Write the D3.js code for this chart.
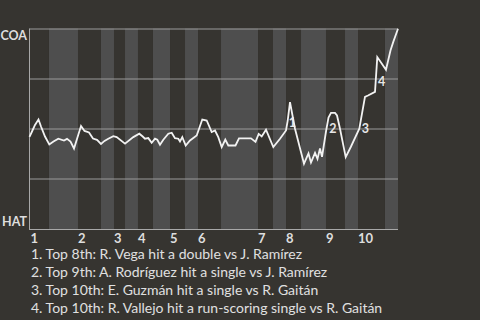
<!DOCTYPE html>
<html>
<head>
<meta charset="utf-8">
<script src="https://cdn.jsdelivr.net/npm/d3@7"></script>
<style>
  body { margin: 0; background: #363430; }
  svg { display: block; font-family: Lato, "Open Sans", sans-serif; }
</style>
</head>
<body>
<svg id="chart" width="480" height="320"></svg>
<script>
// game progress (0-100) and COA win probability
var progress = [0, 0.68, 1.49, 2.44, 3.12, 4.21, 5.37, 6.51, 7.82, 9.36, 10.18, 11.13, 12.08, 13.98,
    14.93, 16.15, 17.23, 18.32, 19.40, 20.35, 21.38, 22.74, 23.66, 25.92, 28.17, 29.80, 30.72, 31.34,
    32.24, 33.16, 34.06, 34.68, 35.41, 36.31, 37.67, 38.59, 39.48, 40.38, 40.84, 41.47, 42.39, 43.56,
    45.37, 46.89, 48.09, 49.44, 50.34, 51.23, 52.16, 53.13, 53.95, 55.90, 56.85, 60.11, 61.33, 62.20,
    63.01, 64.18, 66.16, 67.98, 69.61, 70.07, 70.69, 71.37, 72.05, 74.49, 75.71, 76.39, 77.48, 78.15,
    78.83, 79.38, 80.46, 81.14, 81.82, 82.90, 83.45, 84.26, 85.81, 87.25, 89.50, 91.04, 91.86, 93.76,
    94.38, 96.74, 97.96, 98.72, 100];
var winProb = [0.458, 0.485, 0.518, 0.545, 0.51, 0.46, 0.42, 0.435, 0.449, 0.44, 0.448, 0.435, 0.40, 0.513,
    0.488, 0.48, 0.45, 0.443, 0.423, 0.438, 0.449, 0.462, 0.457, 0.424, 0.457, 0.474, 0.46, 0.449,
    0.452, 0.429, 0.449, 0.444, 0.419, 0.444, 0.474, 0.479, 0.452, 0.449, 0.435, 0.457, 0.415, 0.44,
    0.465, 0.545, 0.54, 0.482, 0.49, 0.457, 0.407, 0.445, 0.415, 0.415, 0.451, 0.451, 0.433, 0.473,
    0.46, 0.494, 0.407, 0.449, 0.49, 0.54, 0.632, 0.565, 0.499, 0.324, 0.375, 0.33, 0.378, 0.348,
    0.40, 0.358, 0.485, 0.555, 0.578, 0.578, 0.565, 0.499, 0.357, 0.41, 0.499, 0.658, 0.665, 0.683,
    0.857, 0.794, 0.89, 0.933, 0.999];

// where each half inning starts (progress), top and bottom halves in turn
var halfStarts = [0, 5.29, 13.16, 19.40, 22.93, 25.92, 29.44, 33.51, 38.13, 42.20, 45.73, 51.97,
    62.01, 66.08, 69.61, 73.68, 80.46, 85.62, 89.15, 96.47];
var innings = ["1", "2", "3", "4", "5", "6", "7", "8", "9", "10"];

var teams = ["COA", "HAT"];

// key plays: marker number, where it sits on the chart
var noteNums = ["1", "2", "3", "4"];
var noteAt = [71.37, 82.36, 91.18, 95.58];
var noteWp = [0.5075, 0.48, 0.48, 0.7125];
var notes = [
    "1. Top 8th: R. Vega hit a double vs J. Ramírez",
    "2. Top 9th: A. Rodríguez hit a single vs J. Ramírez",
    "3. Top 10th: E. Guzmán hit a single vs R. Gaitán",
    "4. Top 10th: R. Vallejo hit a run-scoring single vs R. Gaitán"
];

var svg = d3.select('#chart');
var plotLeft = 29.5, plotRight = 398, plotTop = 28.5, plotBottom = 228.5;

var x = d3.scaleLinear().domain([0, 100]).range([plotLeft, plotRight]);
var y = d3.scaleLinear().domain([0, 1]).range([plotBottom, plotTop]);

// half inning bands
var bandEnds = halfStarts.slice(1).concat([100]);
svg.append('g').selectAll('rect')
    .data(halfStarts)
    .enter().append('rect')
    .attr('x', function(d){ return x(d); })
    .attr('y', y(1))
    .attr('width', function(d, i){ return x(bandEnds[i]) - x(d); })
    .attr('height', plotBottom + 1.5 - y(1))
    .attr('fill', function(d, i){ return i % 2 == 0 ? '#363430' : '#4e4e4e'; });

// grid
svg.append('g')
    .attr('transform', 'translate(' + plotLeft + ',0)')
    .call(d3.axisLeft(y).tickValues([0.25, 0.5, 0.75, 1]).tickSize(-(plotRight - plotLeft)).tickFormat(''))
    .call(function(g){
        g.select('.domain').remove();
        g.selectAll('line').attr('stroke', '#9a9a9a').attr('stroke-width', 1);
    });

// axis lines
svg.append('line').attr('x1', plotLeft).attr('x2', plotLeft).attr('y1', plotTop).attr('y2', plotBottom + 1.5)
    .attr('stroke', '#a8a8a8');
svg.append('line').attr('x1', plotLeft).attr('x2', plotRight).attr('y1', plotBottom + 1).attr('y2', plotBottom + 1)
    .attr('stroke', '#a8a8a8');

// team labels
svg.append('g').selectAll('text')
    .data(teams)
    .enter().append('text')
    .attr('x', 27)
    .attr('y', function(d, i){ return i == 0 ? y(1) + 11.5 : y(0) - 3; })
    .attr('text-anchor', 'end')
    .attr('fill', '#dedede')
    .style('font-size', '12.5px')
    .style('font-weight', 700)
    .text(function(d){ return d; });

// inning labels at start of each top half
svg.append('g').selectAll('text')
    .data(innings)
    .enter().append('text')
    .attr('x', function(d, i){ return x(halfStarts[i * 2]) + (i == 0 ? 1 : 0); })
    .attr('y', 242.5)
    .attr('fill', '#dedede')
    .style('font-size', '13px')
    .style('font-weight', 700)
    .text(function(d){ return d; });

// note markers
svg.append('g').selectAll('text')
    .data(noteNums)
    .enter().append('text')
    .attr('x', function(d, i){ return x(noteAt[i]); })
    .attr('y', function(d, i){ return y(noteWp[i]); })
    .attr('text-anchor', 'middle')
    .attr('fill', '#e6e6e6')
    .style('font-size', '12.5px')
    .style('font-weight', 700)
    .text(function(d){ return d; });

// win probability line
var line = d3.line()
    .x(function(d){ return x(d); })
    .y(function(d, i){ return y(winProb[i]); });
svg.append('path')
    .datum(progress)
    .attr('d', line)
    .attr('fill', 'none')
    .attr('stroke', '#f2f2f2')
    .attr('stroke-width', 1.8)
    .attr('stroke-linejoin', 'miter');

// play notes
svg.append('g').selectAll('text')
    .data(notes)
    .enter().append('text')
    .attr('x', 31)
    .attr('y', function(d, i){ return 258.5 + i * 18.3; })
    .attr('fill', '#e0e0e0')
    .style('font-size', '14px')
    .text(function(d){ return d; });
</script>
</body>
</html>
